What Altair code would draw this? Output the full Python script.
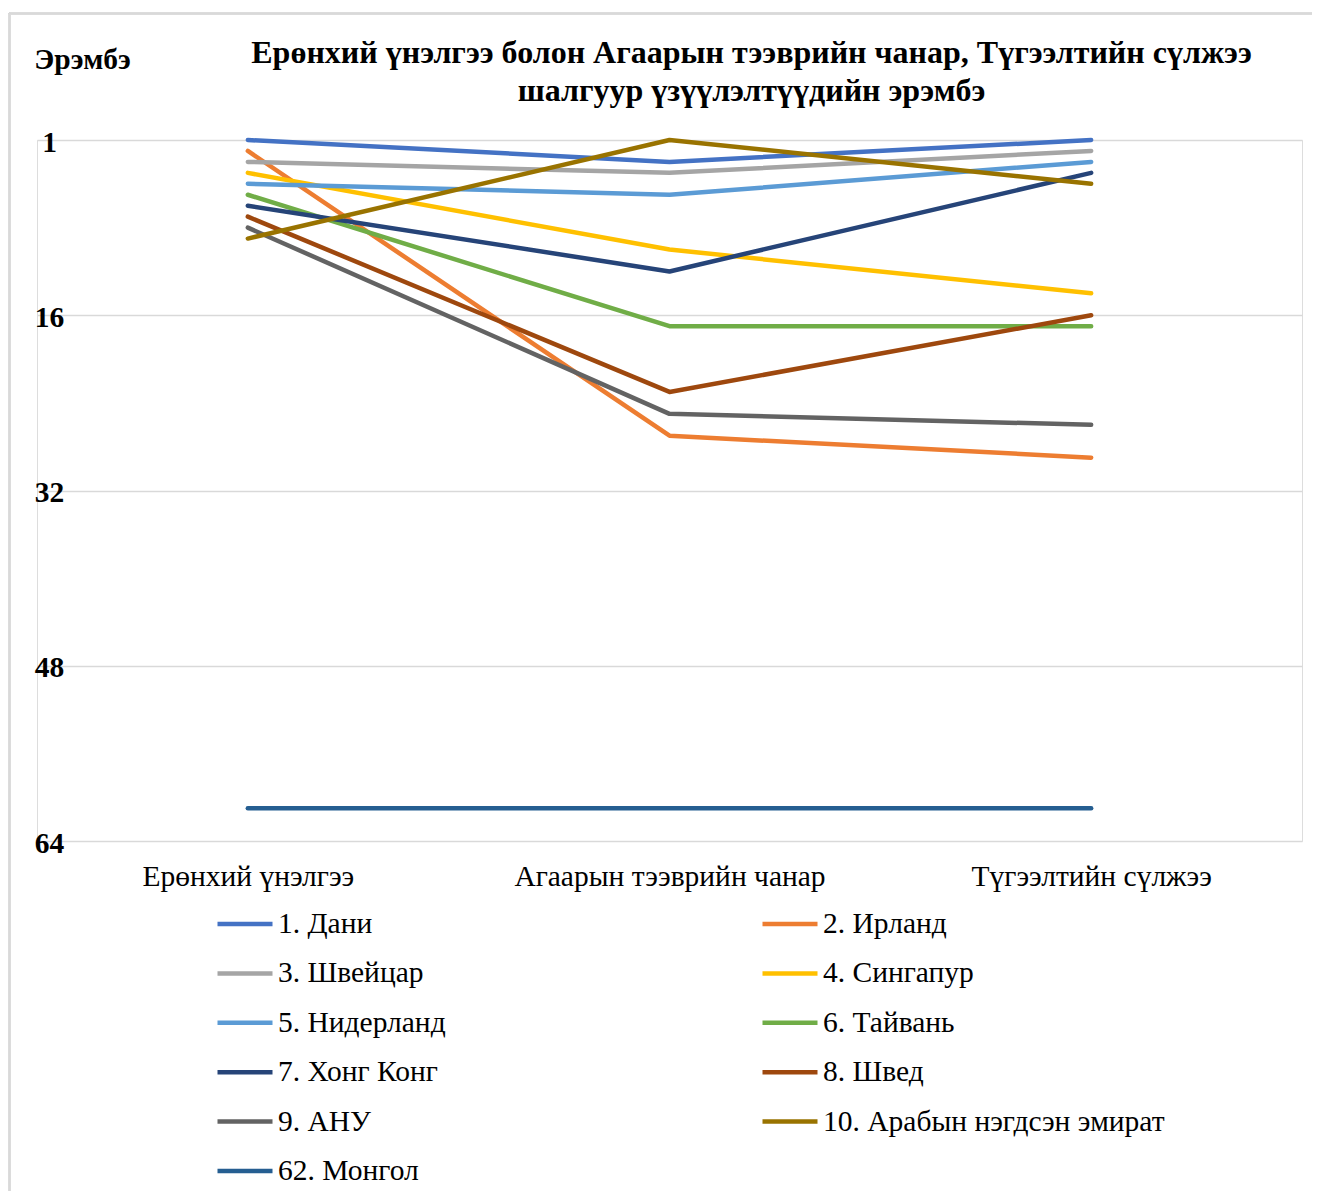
import altair as alt
import pandas as pd

categories = ["Ерөнхий үнэлгээ", "Агаарын тээврийн чанар", "Түгээлтийн сүлжээ"]
countries = [
    "1. Дани", "2. Ирланд", "3. Швейцар", "4. Сингапур", "5. Нидерланд",
    "6. Тайвань", "7. Хонг Конг", "8. Швед", "9. АНУ",
    "10. Арабын нэгдсэн эмират", "62. Монгол",
]
rank_overall = [1, 2, 3, 4, 5, 6, 7, 8, 9, 10, 62]
rank_air = [3, 28, 4, 11, 6, 18, 13, 24, 26, 1, 62]
rank_network = [1, 30, 2, 15, 3, 18, 4, 17, 27, 5, 62]
colors = ["#4472C4", "#ED7D31", "#A5A5A5", "#FFC000", "#5B9BD5", "#70AD47",
          "#264478", "#9E480E", "#636363", "#997300", "#255E91"]
y_ticks = [0, 16, 32, 48, 64]

title_lines = [
    "Ерөнхий үнэлгээ болон Агаарын тээврийн чанар, Түгээлтийн сүлжээ",
    "шалгуур үзүүлэлтүүдийн эрэмбэ",
]

rows = []
for i, c in enumerate(countries):
    for cat, vals in zip(categories, [rank_overall, rank_air, rank_network]):
        rows.append({"country": c, "category": cat, "rank": vals[i], "order": i})
df = pd.DataFrame(rows)

FONT = "Liberation Serif"
FS = 29.5

lines = alt.Chart(df).transform_calculate(
    pos="datum.rank - 1"
).mark_line(strokeWidth=4.5, strokeCap="round", strokeJoin="round").encode(
    x=alt.X("category:N", sort=categories,
            scale=alt.Scale(type="point", padding=0.5),
            axis=alt.Axis(title=None, labelAngle=0, domain=False, ticks=False, tickSize=0,
                          grid=False, labelFont=FONT, labelFontSize=FS, labelLimit=800,
                          labelColor="black", labelPadding=21)),
    y=alt.Y("pos:Q", scale=alt.Scale(domain=[0, 64], reverse=True, nice=False, zero=False),
            axis=alt.Axis(values=y_ticks,
                          labelExpr="datum.value == 0 ? '1' : datum.label",
                          title="Эрэмбэ", titleAngle=0, titleX=45, titleY=-72,
                          titleAlign="center", titleBaseline="alphabetic",
                          titleFont=FONT, titleFontSize=FS, titleFontWeight="bold",
                          titleColor="black",
                          grid=True, gridColor="#D9D9D9", gridWidth=1.5,
                          domain=False, ticks=False, tickSize=0,
                          labelFont=FONT, labelFontSize=FS, labelFontWeight="bold",
                          labelColor="black", labelAlign="center", labelPadding=-12,
                          labelBaseline="alphabetic", labelOffset=11)),
    color=alt.Color("country:N", sort=countries,
                    scale=alt.Scale(domain=countries, range=colors),
                    legend=alt.Legend(title=None, orient="none", legendX=178, legendY=769,
                                      direction="horizontal",
                                      columns=2, columnPadding=314, rowPadding=19.4,
                                      clipHeight=30,
                                      symbolType="stroke", symbolSize=3025,
                                      symbolStrokeWidth=4.5,
                                      labelFont=FONT, labelFontSize=FS, labelColor="black",
                                      labelOffset=3, padding=0, labelLimit=600)),
    order=alt.Order("order:Q"),
)

border_top = alt.Chart(df).mark_rule(color="#D9D9D9", strokeWidth=1.5).encode(
    x=alt.value(-27.5), x2=alt.value(1300), y=alt.value(-126.5))
border_left = alt.Chart(df).mark_rule(color="#D9D9D9", strokeWidth=1.5).encode(
    x=alt.value(-27.5), y=alt.value(-126.5), y2=alt.value(1100))

chart = alt.layer(border_top, border_left, lines).properties(
    width=1265, height=701,
    autosize=alt.AutoSizeParams(type="none"),
    padding={"left": 29, "top": 132, "right": 10, "bottom": 350},
    title=alt.TitleParams(text=title_lines, font=FONT, fontSize=32, fontWeight="bold",
                          lineHeight=38, anchor="middle", dx=82, dy=95, offset=0,
                          color="black"),
).configure_view(strokeWidth=0).configure(font=FONT)

chart.save("out.html", embed_options={"renderer": "svg", "actions": False})
